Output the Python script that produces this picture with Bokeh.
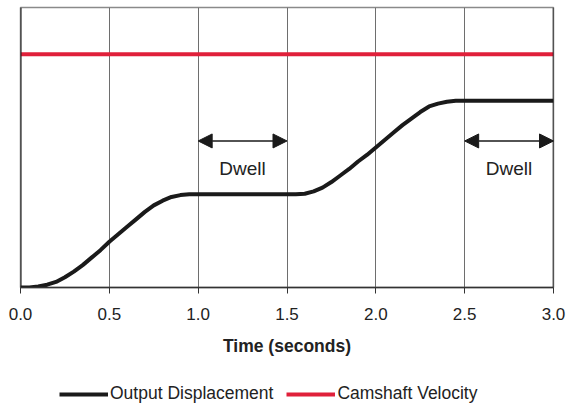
from bokeh.plotting import figure
from bokeh.layouts import column
from bokeh.models import (FixedTicker, Span, Arrow, NormalHead, Legend, LegendItem,
                          ColumnDataSource)
from bokeh.core.properties import value
from bokeh.embed import file_html
from bokeh.resources import INLINE

# ---- data ----
time = [0.0, 0.05, 0.1, 0.15, 0.2, 0.25, 0.3, 0.35, 0.4, 0.45, 0.5, 0.55, 0.6, 0.65,
        0.7, 0.75, 0.8, 0.85, 0.9, 0.95, 1.0, 1.5, 1.55, 1.6, 1.65, 1.7, 1.75, 1.8,
        1.85, 1.9, 1.95, 2.0, 2.05, 2.1, 2.15, 2.2, 2.25, 2.3, 2.35, 2.4, 2.45, 2.5, 3.0]
displacement = [0.0, 0.0, 0.01, 0.03, 0.06, 0.11, 0.17, 0.24, 0.32, 0.40, 0.49, 0.57,
                0.65, 0.73, 0.81, 0.88, 0.93, 0.97, 0.99, 1.0, 1.0, 1.0, 1.0, 1.005,
                1.03, 1.07, 1.13, 1.20, 1.27, 1.35, 1.42, 1.50, 1.58, 1.66, 1.74, 1.81,
                1.88, 1.94, 1.97, 1.99, 2.0, 2.0, 2.0]
velocity_time = [0.0, 3.0]
velocity = [2.5, 2.5]

tick_values = [0.0, 0.5, 1.0, 1.5, 2.0, 2.5, 3.0]
tick_labels = ["0.0", "0.5", "1.0", "1.5", "2.0", "2.5", "3.0"]

dwell_start = [1.0, 2.5]
dwell_end = [1.5, 3.0]
dwell_arrow_y = [1.57, 1.57]
dwell_text_y = [1.275, 1.275]
dwell_labels = ["Dwell", "Dwell"]

series_names = ["Output Displacement", "Camshaft Velocity"]

FONT = "Liberation Sans"
BLACK = "#1a1a1a"
RED = "#e0203a"

p = figure(width=567, height=375, x_range=(0, 3), y_range=(0, 3),
           output_backend="svg", toolbar_location=None,
           min_border_left=20, min_border_right=14, min_border_top=7, min_border_bottom=88)
p.outline_line_color = "#8a8a8a"
p.outline_line_width = 1.5
p.background_fill_color = "white"

p.yaxis.visible = False
p.ygrid.grid_line_color = None

p.xgrid.ticker = FixedTicker(ticks=tick_values)
p.xgrid.grid_line_color = "#6e6e6e"
p.xgrid.grid_line_width = 1

xa = p.xaxis[0]
xa.ticker = FixedTicker(ticks=tick_values)
xa.major_label_overrides = {v: l for v, l in zip(tick_values, tick_labels)}
xa.major_tick_out = 6
xa.major_tick_in = 0
xa.minor_tick_line_color = None
xa.major_tick_line_color = "#333333"
xa.axis_line_color = "#333333"
xa.axis_line_width = 1.5
xa.major_label_text_font = FONT
xa.major_label_text_font_size = "17px"
xa.major_label_text_color = "#222222"
xa.major_label_standoff = 14
xa.axis_label = "Time (seconds)"
xa.axis_label_text_font = FONT
xa.axis_label_text_font_size = "17.5px"
xa.axis_label_text_font_style = "bold"
xa.axis_label_text_color = "#222222"
xa.axis_label_standoff = 13

# frame sides
p.add_layout(Span(location=0, dimension="height", line_color=BLACK, line_width=2))
p.add_layout(Span(location=3, dimension="height", line_color=BLACK, line_width=1.5))

p.line(time, displacement, line_color=BLACK, line_width=4)
p.line(velocity_time, velocity, line_color=RED, line_width=4)

for xs, xe, ya in zip(dwell_start, dwell_end, dwell_arrow_y):
    p.add_layout(Arrow(x_start=xs, y_start=ya, x_end=xe, y_end=ya,
                       line_color=BLACK, line_width=1.5,
                       start=NormalHead(size=14, fill_color=BLACK, line_color=BLACK),
                       end=NormalHead(size=14, fill_color=BLACK, line_color=BLACK)))

src = ColumnDataSource(dict(x=[(a + b) / 2 for a, b in zip(dwell_start, dwell_end)],
                            y=dwell_text_y, t=dwell_labels))
p.text(x="x", y="y", text="t", source=src, text_align="center", text_baseline="middle",
       text_font=value(FONT), text_font_size="19px", text_color="#222222")

# legend strip below (series drawn out of view; only the legend shows)
lf = figure(width=567, height=29, output_backend="svg", toolbar_location=None,
            x_axis_location=None, y_axis_location=None,
            min_border_left=0, min_border_right=0, min_border_top=0, min_border_bottom=0,
            x_range=(10, 11), y_range=(10, 11))
lf.grid.visible = False
lf.outline_line_color = None
l1 = lf.line(time, displacement, line_color=BLACK, line_width=4)
l2 = lf.line(velocity_time, velocity, line_color=RED, line_width=4)
legend = Legend(items=[LegendItem(label=series_names[0], renderers=[l1]),
                       LegendItem(label=series_names[1], renderers=[l2])],
                orientation="horizontal", location=(39, 0),
                glyph_width=49, glyph_height=16, label_standoff=2, spacing=13,
                padding=0, margin=0, border_line_alpha=0, background_fill_alpha=0,
                label_text_font=FONT, label_text_font_size="17.5px",
                label_text_color="#222222")
lf.add_layout(legend, "center")

layout = column(p, lf, spacing=0)
open("out.html", "w").write(file_html(layout, INLINE))
